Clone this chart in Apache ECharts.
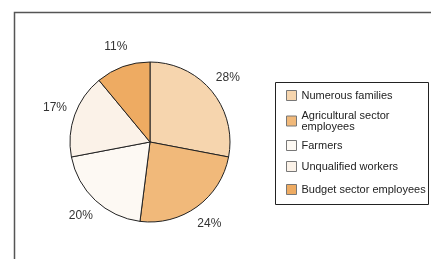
<!DOCTYPE html>
<html>
<head>
<meta charset="utf-8">
<script src="https://cdn.jsdelivr.net/npm/echarts@6/dist/echarts.min.js"></script>
<style>html,body{margin:0;padding:0;background:#fff;}#c{width:431px;height:259px;}</style>
</head>
<body>
<div id="c"></div>
<script>
const categories = ['Numerous families', 'Agricultural sector\nemployees', 'Farmers', 'Unqualified workers', 'Budget sector employees'];
const values = [28, 24, 20, 17, 11];
const colors = ['#F6D5AE', '#F1B97A', '#FDF9F3', '#FBF2E8', '#EEAB62'];
const legendTops = [90, 110, 140, 161, 184];

const chart = echarts.init(document.getElementById('c'), null, {renderer: 'canvas'});
const mainData = categories.map((n, i) => ({name: n, value: values[i], itemStyle: {color: colors[i]}}));
const labelData = categories.map((n, i) => ({name: n, value: values[i]}));

const legends = categories.map((n, i) => ({
  orient: 'vertical',
  left: 286,
  top: legendTops[i],
  padding: 0,
  itemWidth: 10,
  itemHeight: 10,
  icon: 'rect',
  itemStyle: {borderColor: '#777', borderWidth: 1},
  textStyle: {fontFamily: 'Liberation Sans, Arial, sans-serif', fontSize: 11, color: '#222', lineHeight: 11},
  data: [n],
  selectedMode: false,
  z: 5
}));

chart.setOption({
  animation: false,
  graphic: [
    {type: 'rect', shape: {x: 14.5, y: 12.5, width: 600, height: 400}, style: {fill: 'none', stroke: '#555', lineWidth: 1.5}, silent: true},
    {type: 'rect', shape: {x: 275.5, y: 82.5, width: 153, height: 122}, style: {fill: '#fff', stroke: '#222', lineWidth: 1}, silent: true, z: 0}
  ],
  legend: legends,
  series: [
    {
      type: 'pie',
      center: [150, 142],
      radius: [0, 80],
      startAngle: 90,
      clockwise: true,
      silent: true,
      label: {show: false},
      labelLine: {show: false},
      itemStyle: {borderColor: '#222', borderWidth: 1},
      emphasis: {disabled: true},
      data: mainData
    },
    {
      type: 'pie',
      center: [150, 142],
      radius: [88, 108],
      startAngle: 90,
      clockwise: true,
      silent: true,
      itemStyle: {color: 'rgba(0,0,0,0)', borderWidth: 0},
      label: {show: true, position: 'inside', formatter: '{c}%', fontFamily: 'Liberation Sans, Arial, sans-serif', fontSize: 12, color: '#333'},
      labelLine: {show: false},
      emphasis: {disabled: true},
      data: labelData
    }
  ]
});
</script>
</body>
</html>
